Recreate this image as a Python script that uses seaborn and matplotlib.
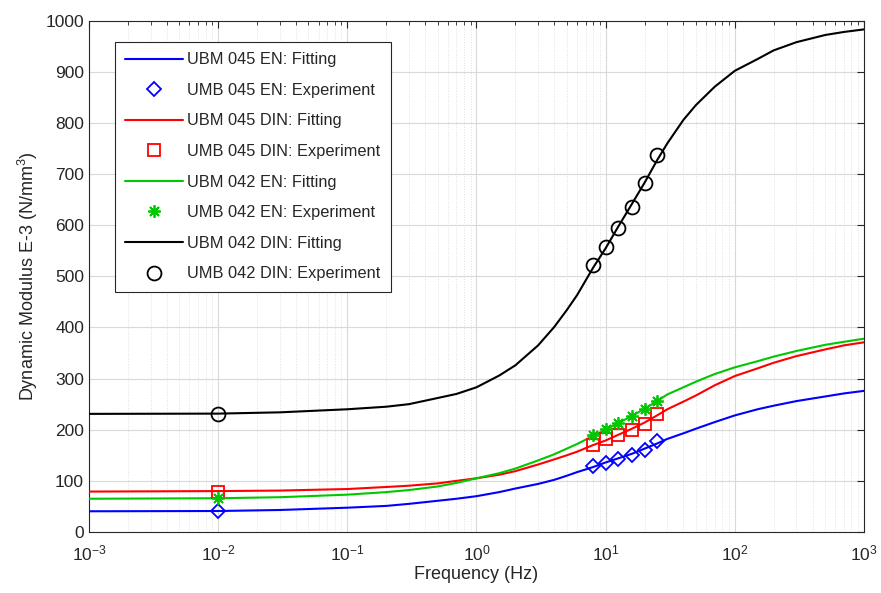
import numpy as np
import pandas as pd
import matplotlib
matplotlib.use("Agg")
import matplotlib.pyplot as plt
import seaborn as sns
from matplotlib.ticker import FixedLocator, NullFormatter, MultipleLocator, LogFormatterMathtext

# ---- data ----
fit_freq = [1e-3, 1e-2, 0.03, 0.1, 0.2, 0.3, 0.5, 0.7, 1, 1.5, 2, 3, 4, 5, 6, 8, 10, 12.5, 16,
            20, 25, 30, 40, 50, 70, 100, 150, 200, 300, 500, 700, 1000]
fit_045_en  = [40.5, 41, 43, 47.5, 51, 55, 61, 65, 70, 78, 85, 94, 102, 110, 117, 127, 136, 144, 153,
               163, 173, 182, 193, 202, 215, 228, 240, 247, 256, 265, 271, 276]
fit_045_din = [79, 80, 81, 84, 88, 90.5, 95, 100, 105, 112, 119, 132, 142, 150, 157, 170, 179, 190, 202,
               214, 228, 240, 255, 267, 287, 305, 320, 331, 344, 357, 365, 371]
fit_042_en  = [65, 66, 68, 73, 78, 82, 89, 96, 105, 115, 124, 140, 152, 163, 172, 188, 200, 213, 227,
               241, 256, 269, 283, 294, 309, 322, 334, 343, 354, 366, 372, 378]
fit_042_din = [231, 231.5, 234, 240, 245, 250, 262, 270, 283, 306, 326, 365, 401, 434, 463, 517, 555, 597, 642,
               683, 727, 760, 806, 835, 871, 902, 925, 942, 958, 972, 978, 983]

exp_freq = [0.01, 8, 10, 12.5, 16, 20, 25]
exp_045_en  = [41, 129, 135, 143, 150, 160, 178]
exp_045_din = [78, 170, 181, 189, 199, 211, 230]
exp_042_en  = [66, 189, 201, 213, 227, 240, 256]
exp_042_din = [231, 523, 558, 595, 635, 682, 737]

x_ticks = [1e-3, 1e-2, 1e-1, 1e0, 1e1, 1e2, 1e3]
labels_fit = ["UBM 045 EN: Fitting", "UBM 045 DIN: Fitting", "UBM 042 EN: Fitting", "UBM 042 DIN: Fitting"]
labels_exp = ["UMB 045 EN: Experiment", "UMB 045 DIN: Experiment", "UMB 042 EN: Experiment", "UMB 042 DIN: Experiment"]
x_label = "Frequency (Hz)"
y_label = "Dynamic Modulus E-3 (N/mm$^3$)"

# ---- style ----
sns.set_theme(style="white")
plt.rcParams['font.family'] = ['Liberation Sans', 'DejaVu Sans']
plt.rcParams['mathtext.fontset'] = 'custom'
plt.rcParams['mathtext.rm'] = 'Liberation Sans'

fig = plt.figure(figsize=(8.81, 5.93), dpi=100)
ax = fig.add_axes([0.101, 0.1029, 0.8797, 0.8622])

colors = ["#0000ff", "#ff0000", "#00c800", "#000000"]
markers = ["D", "s", (8, 2, 0), "o"]
msizes = [7, 8, 9, 10]
fits = [fit_045_en, fit_045_din, fit_042_en, fit_042_din]
exps = [exp_045_en, exp_045_din, exp_042_en, exp_042_din]

for i in range(4):
    sns.lineplot(x=fit_freq, y=fits[i], ax=ax, color=colors[i], lw=1.5,
                 label=labels_fit[i], zorder=3)
    sns.lineplot(x=exp_freq, y=exps[i], ax=ax, color=colors[i], linestyle='',
                 marker=markers[i], markersize=msizes[i],
                 markerfacecolor='none', markeredgecolor=colors[i],
                 markeredgewidth=1.3, label=labels_exp[i], zorder=4)

ax.set_xscale('log')
ax.set_xlim(1e-3, 1e3)
ax.set_ylim(0, 1000)
ax.yaxis.set_major_locator(MultipleLocator(100))
ax.xaxis.set_major_locator(FixedLocator(x_ticks))
ax.xaxis.set_major_formatter(LogFormatterMathtext())
minor = [m * t for t in x_ticks[:-1] for m in range(2, 10)]
ax.xaxis.set_minor_locator(FixedLocator(minor))
ax.xaxis.set_minor_formatter(NullFormatter())

ax.grid(True, which='major', color='#d9d9d9', lw=0.8)
ax.grid(True, which='minor', axis='x', color='#e0e0e0', lw=0.7, linestyle=':')
ax.set_axisbelow(True)

for s in ax.spines.values():
    s.set_color('#262626')
    s.set_linewidth(0.8)
    s.set_visible(True)
ax.tick_params(axis='both', which='both', direction='in', top=True, right=True,
               colors='#262626', labelsize=12.5)
ax.tick_params(which='major', length=5, width=0.8)
ax.tick_params(which='minor', length=3, width=0.6)
ax.tick_params(axis='x', pad=8)

ax.set_xlabel(x_label, fontsize=13, color='#262626', labelpad=2)
ax.set_ylabel(y_label, fontsize=13, color='#262626', labelpad=4)

leg = ax.legend(loc='upper left', bbox_to_anchor=(0.033, 0.959), fontsize=11.8,
                handlelength=3.5, labelspacing=0.95, borderpad=0.65, handletextpad=0.3,
                frameon=True, fancybox=False, edgecolor='#262626', framealpha=1,
                borderaxespad=0)
leg.get_frame().set_linewidth(0.8)

fig.savefig("out.png", dpi=100)
